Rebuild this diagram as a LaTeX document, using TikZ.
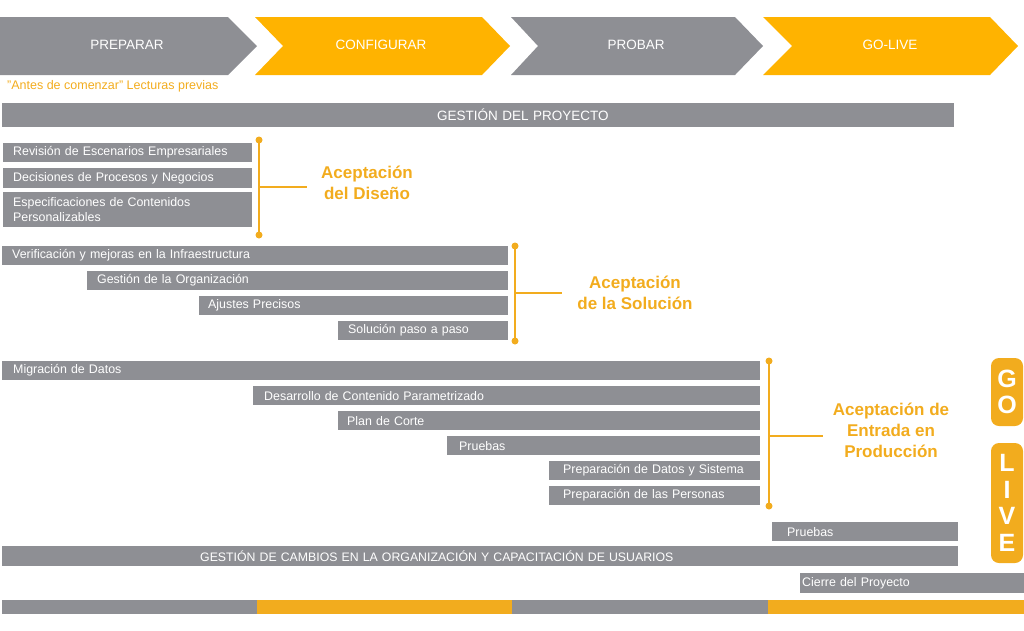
\documentclass[tikz,border=0pt]{standalone}
\usepackage{fontspec}
\setmainfont{Liberation Sans}
\definecolor{barg}{RGB}{142,143,148}
\definecolor{chevo}{RGB}{255,179,0}
\definecolor{acc}{RGB}{242,172,30}
\tikzset{
  chevtext/.style={text=white, font=\fontsize{13.5}{16}\selectfont},
  bar/.style={fill=barg, text=white, anchor=north west, inner xsep=10pt, inner ysep=0pt,
    align=left, font=\fontsize{12.4}{15}\selectfont, minimum height=19pt},
  acclabel/.style={text=acc, align=center, font=\bfseries\fontsize{17}{21}\selectfont},
  bracket/.style={draw=acc, line width=2pt},
  dot/.style={fill=acc},
  golive/.style={fill=acc, rounded corners=8pt, text=white, align=center,
    minimum width=32pt, inner sep=0pt, font=\bfseries\fontsize{25}{26.5}\selectfont}
}
\begin{document}
\begin{tikzpicture}[x=1pt, y=-1pt]
\useasboundingbox (0,0) rectangle (1024,630);
% chevrons
\fill[barg]  (0,17) -- (228,17) -- (257,46) -- (228,75) -- (0,75) -- cycle;
\fill[chevo] (255,17) -- (482,17) -- (510,46) -- (482,75) -- (255,75) -- (283,46) -- cycle;
\fill[barg]  (511,17) -- (735,17) -- (763,46) -- (735,75) -- (511,75) -- (538,46) -- cycle;
\fill[chevo] (763,17) -- (990,17) -- (1018,46) -- (990,75) -- (763,75) -- (792,46) -- cycle;
\node[chevtext] (prep) at (127,45) {PREPARAR};
\node[chevtext] (conf) at (381,45) {CONFIGURAR};
\node[chevtext] (prob) at (636,45) {PROBAR};
\node[chevtext] (golv) at (890,45) {GO-LIVE};
\node[text=acc, anchor=west, inner sep=0pt, font=\fontsize{12.5}{15}\selectfont] (antes) at (7,86) {"Antes de comenzar" Lecturas previas};
% project management
\node[bar, minimum height=24pt, text width=932pt, font=\fontsize{13.5}{16}\selectfont] (gp) at (2,103) {\hspace*{425pt}GESTIÓN DEL PROYECTO};
% group 1
\node[bar, text width=229pt] (rev) at (3,143) {Revisión de Escenarios Empresariales};
\node[bar, text width=229pt, minimum height=20pt] (dec) at (3,168) {Decisiones de Procesos y Negocios};
\node[bar, text width=229pt, minimum height=35pt] (esp) at (3,192) {Especificaciones de Contenidos\\Personalizables};
\coordinate (b1t) at (259,140);
\coordinate (b1b) at (259,235);
\coordinate (b1m) at (259,187);
\coordinate (b1e) at (307,187);
\draw[bracket] (b1t) -- (b1b);
\draw[bracket] (b1m) -- (b1e);
\fill[dot] (b1t) circle (3.5);
\fill[dot] (b1b) circle (3.5);
\node[acclabel] (ad) at (367,183) {Aceptación\\del Diseño};
% group 2
\node[bar, text width=486pt] (ver) at (2,246) {Verificación y mejoras en la Infraestructura};
\node[bar, text width=401pt] (gorg) at (87,271) {Gestión de la Organización};
\node[bar, text width=291pt, inner xsep=9pt] (aju) at (199,296) {Ajustes Precisos};
\node[bar, text width=150pt] (sol) at (338,321) {Solución paso a paso};
\coordinate (b2t) at (515,246);
\coordinate (b2b) at (515,341);
\coordinate (b2m) at (515,293);
\coordinate (b2e) at (562,293);
\draw[bracket] (b2t) -- (b2b);
\draw[bracket] (b2m) -- (b2e);
\fill[dot] (b2t) circle (3.5);
\fill[dot] (b2b) circle (3.5);
\node[acclabel] (as) at (635,293) {Aceptación\\de la Solución};
% group 3
\node[bar, inner xsep=11pt, text width=736pt] (mig) at (2,361) {Migración de Datos};
\node[bar, inner xsep=11pt, text width=485pt] (des) at (253,386) {Desarrollo de Contenido Parametrizado};
\node[bar, inner xsep=9pt, text width=404pt] (plan) at (338,411) {Plan de Corte};
\node[bar, inner xsep=12pt, text width=289pt] (prue) at (447,436) {Pruebas};
\node[bar, inner xsep=14pt, text width=183pt] (pds) at (549,461) {Preparación de Datos y Sistema};
\node[bar, inner xsep=14pt, text width=183pt] (pper) at (549,486) {Preparación de las Personas};
\coordinate (b3t) at (769,361);
\coordinate (b3b) at (769,506);
\coordinate (b3m) at (769,436);
\coordinate (b3e) at (823,436);
\draw[bracket] (b3t) -- (b3b);
\draw[bracket] (b3m) -- (b3e);
\fill[dot] (b3t) circle (3.5);
\fill[dot] (b3b) circle (3.5);
\node[acclabel] (aep) at (891,430) {Aceptación de\\Entrada en\\Producción};
% go live boxes
\node[golive, minimum height=68pt] (go) at (1007,392) {G\\O};
\node[golive, minimum height=120pt] (live) at (1007,503) {L\\I\\V\\E};
% lower bars
\node[bar, inner xsep=15pt, text width=156pt] (prue2) at (772,522) {Pruebas};
\node[bar, text width=936pt, minimum height=20pt, font=\fontsize{12.3}{14}\selectfont] (gc) at (2,546) {\hspace*{188pt}GESTIÓN DE CAMBIOS EN LA ORGANIZACIÓN Y CAPACITACIÓN DE USUARIOS};
\node[bar, inner xsep=2pt, text width=220pt, minimum height=20pt] (cie) at (800,573) {Cierre del Proyecto};
% bottom strip
\fill[barg]  (2,600) rectangle (257,614);
\fill[acc]   (257,600) rectangle (512,614);
\fill[barg]  (512,600) rectangle (768,614);
\fill[acc]   (768,600) rectangle (1024,614);
\end{tikzpicture}
\end{document}
